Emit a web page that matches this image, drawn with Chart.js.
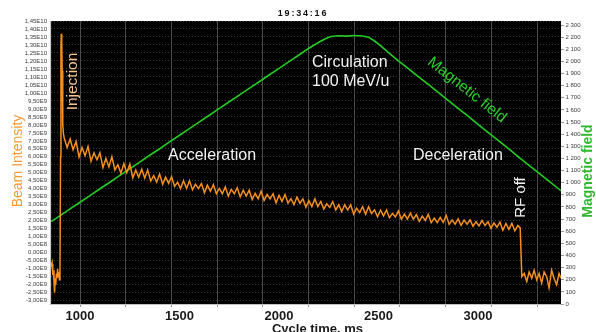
<!DOCTYPE html>
<html>
<head>
<meta charset="utf-8">
<script src="https://cdn.jsdelivr.net/npm/chart.js@4"></script>
<style>
  body { margin: 0; background: #fff; }
  canvas { display: block; }
</style>
</head>
<body>
<canvas id="cycle_chart" width="596" height="332"></canvas>
<script>
// beam intensity in units of 1E9, pairs of [cycle time ms, intensity]
const preInjection = [[854,-0.6],[857,-0.9],[860,-0.7],[863,-1.4],[866,-1.1],[869,-1.8],[872,-2.5],[875,-1.6],[878,-2.0],[881,-1.3],[884,-1.6],[887,-1.0],[890,-1.5],[893,-1.2],[896,-1.7],[899,-1.4]];
const injectionPeak = [[902,6.0],[904,13.0],[906,13.7],[908,13.2],[910,11.4],[912,10.2],[914,8.0],[916,7.5]];
const decayEarly = [[920,7.2],[935,6.58],[950,7.11],[965,6.44],[980,6.96],[995,5.99],[1010,6.58],[1025,6.07],[1040,6.65],[1055,5.72],[1070,6.25],[1085,5.82],[1100,6.25],[1115,5.33],[1130,5.9],[1145,5.37],[1160,6.0],[1175,5.18],[1190,5.5],[1205,4.98],[1220,5.57],[1235,5.01],[1250,5.55],[1265,4.69],[1280,5.18],[1295,4.72],[1310,5.23],[1325,4.68],[1340,5.18],[1355,4.48],[1370,4.82],[1385,4.42],[1400,4.92],[1415,4.28],[1430,4.73],[1445,4.34],[1460,4.75],[1475,4.15],[1490,4.41]];
const decayMid = [[1505,4.01],[1520,4.51],[1535,4.02],[1550,4.51],[1565,3.93],[1580,4.29],[1595,4.01],[1610,4.33],[1625,3.75],[1640,4.23],[1655,3.85],[1670,4.27],[1685,3.7],[1700,4.02],[1715,3.69],[1730,4.12],[1745,3.54],[1760,3.96],[1775,3.69],[1790,4.07],[1805,3.49],[1820,3.91],[1835,3.54],[1850,3.91],[1865,3.33],[1880,3.71],[1895,3.38],[1910,3.85],[1925,3.27],[1940,3.65],[1955,3.37],[1970,3.69],[1985,3.12],[2000,3.59],[2015,3.21],[2030,3.64],[2045,3.11],[2060,3.38],[2075,3.01],[2090,3.48],[2105,3.1],[2120,3.37],[2135,2.85],[2150,3.27],[2165,2.89],[2180,3.37],[2195,2.89],[2210,3.21],[2225,2.74],[2240,3.06],[2255,2.83],[2270,3.2],[2285,2.68],[2300,3.0],[2315,2.57],[2330,3.0],[2345,2.67],[2360,2.99],[2375,2.42],[2390,2.79],[2405,2.51],[2420,2.88],[2435,2.41],[2450,2.88],[2465,2.45],[2480,2.68],[2495,2.25]];
const decayLate = [[2510,2.66],[2525,2.3],[2540,2.67],[2555,2.19],[2570,2.46],[2585,2.24],[2600,2.61],[2615,2.09],[2630,2.42],[2645,2.1],[2660,2.47],[2675,2.1],[2690,2.38],[2705,1.96],[2720,2.29],[2735,2.02],[2750,2.4],[2765,1.88],[2780,2.16],[2795,1.89],[2810,2.21],[2825,1.9],[2840,2.34],[2855,1.77],[2870,2.05],[2885,1.79],[2900,2.12],[2915,1.71],[2930,2.04],[2945,1.78],[2960,2.06],[2975,1.65],[2990,1.94],[3005,1.68],[3020,2.01],[3035,1.7],[3050,1.94],[3065,1.52],[3080,1.86],[3095,1.59],[3110,1.92],[3125,1.4],[3140,1.83],[3155,1.46],[3170,1.84],[3185,1.37],[3200,1.7],[3212,1.55]];
const afterRfOff = [[3220,-1.5],[3232,-1.3],[3245,-1.8],[3257,-1.2],[3270,-1.6],[3282,-1.1],[3295,-1.7],[3307,-1.3],[3320,-1.9],[3332,-1.2],[3345,-1.5],[3357,-2.2],[3370,-1.1],[3382,-1.6],[3395,-2.0],[3407,-1.3],[3417,-1.6]];

// magnetic field, pairs of [cycle time ms, field]
const magneticField = [[855,680],[900,728],[950,784],[1000,839],[1050,894],[1100,950],[1150,1004],[1200,1060],[1250,1115],[1300,1170],[1350,1226],[1400,1280],[1450,1336],[1500,1391],[1550,1446],[1600,1502],[1650,1556],[1700,1612],[1750,1667],[1800,1722],[1850,1777],[1900,1832],[1950,1888],[2000,1943],[2050,1998],[2100,2053],[2150,2108],[2200,2158],[2230,2185],[2260,2205],[2300,2212],[2340,2208],[2380,2214],[2420,2210],[2450,2200],[2480,2168],[2510,2130],[2550,2073],[2600,2005],[2650,1940],[2700,1875],[2750,1810],[2800,1745],[2850,1678],[2900,1612],[2950,1548],[3000,1480],[3050,1415],[3100,1350],[3150,1284],[3200,1218],[3250,1152],[3300,1087],[3350,1022],[3417,934]];

// tick labels
const timeTicks = [1000, 1500, 2000, 2500, 3000];
const gridTimes = [1000, 1250, 1500, 1750, 2000, 2250, 2500, 2750, 3000, 3250, 3500];
const intensityTicks = [-3, -2.5, -2, -1.5, -1, -0.5, 0, 0.5, 1, 1.5, 2, 2.5, 3, 3.5, 4, 4.5, 5, 5.5, 6, 6.5, 7, 7.5, 8, 8.5, 9, 9.5, 10, 10.5, 11, 11.5, 12, 12.5, 13, 13.5, 14, 14.5];
const fieldTicks = [0, 100, 200, 300, 400, 500, 600, 700, 800, 900, 1000, 1100, 1200, 1300, 1400, 1500, 1600, 1700, 1800, 1900, 2000, 2100, 2200, 2300];

const toPoints = arr => arr.map(p => ({x: p[0], y: p[1]}));
const beamIntensity = [].concat(preInjection, injectionPeak, decayEarly, decayMid, decayLate, afterRfOff);

//format 1E9 units as 1,45E10 style
function sciLabel(v) {
    const n = Math.round(v * 100);
    if (n === 0) return '0,00E0';
    const s = String(Math.abs(n));
    const exp = s.length - 1 + 7;
    const mant = (Math.abs(n) / Math.pow(10, s.length - 1)).toFixed(2).replace('.', ',');
    return (n < 0 ? '-' : '') + mant + 'E' + exp;
}

function fieldLabel(v) {
    if (v < 1000) return String(v);
    return Math.floor(v / 1000) + ' ' + String(v % 1000).padStart(3, '0');
}

//draws black plot area, border and the text notes
const decorations = {
    id: 'decorations',
    beforeDraw(chart) {
        const {ctx, chartArea: a} = chart;
        ctx.save();
        ctx.fillStyle = '#000';
        ctx.fillRect(a.left, a.top, a.right - a.left, a.bottom - a.top);
        ctx.restore();
    },
    afterDraw(chart) {
        const {ctx, chartArea: a} = chart;
        ctx.save();
        ctx.strokeStyle = '#c4c4c4';
        ctx.lineWidth = 1.2;
        ctx.beginPath();
        ctx.moveTo(a.left - 0.5, a.top);
        ctx.lineTo(a.left - 0.5, a.bottom + 0.5);
        ctx.lineTo(a.right, a.bottom + 0.5);
        ctx.stroke();

        const text = (str, x, y, font, color, rot, align) => {
            ctx.save();
            ctx.translate(x, y);
            ctx.rotate(rot || 0);
            ctx.font = font;
            ctx.fillStyle = color;
            ctx.textAlign = align || 'center';
            ctx.textBaseline = 'middle';
            ctx.fillText(str, 0, 0);
            ctx.restore();
        };

        // title
        ctx.save();
        ctx.letterSpacing = '1.8px';
        text('19:34:16', 303, 13.5, 'bold 9px "Liberation Sans", Arial', '#111');
        ctx.restore();

        text('Beam Intensity', 18, 161, '14px "Liberation Sans", Arial', '#f39a35', -Math.PI / 2);
        text('Magnetic field', 588.5, 171, 'bold 14px "Liberation Sans", Arial', '#2fb82f', -Math.PI / 2);

        ctx.save();
        ctx.font = 'bold 13px "Liberation Sans", Arial';
        ctx.fillStyle = '#1a1a1a';
        ctx.textAlign = 'center';
        ctx.textBaseline = 'alphabetic';
        ctx.fillText('Cycle time, ms', 317.5, 332.5);
        ctx.restore();

        const f = '15.5px "Liberation Sans", Arial';
        text('Injection', 73, 81.5, f, '#f6c590', -Math.PI / 2);
        text('Acceleration', 168, 156, '16px "Liberation Sans", Arial', '#f2f2f2', 0, 'left');
        text('Circulation', 312, 63, '16px "Liberation Sans", Arial', '#f2f2f2', 0, 'left');
        text('100 MeV/u', 312, 82, '16px "Liberation Sans", Arial', '#f2f2f2', 0, 'left');
        text('Deceleration', 413, 156, '16px "Liberation Sans", Arial', '#f2f2f2', 0, 'left');
        text('Magnetic field', 467, 90, f, '#2bd12b', 0.67);
        text('RF off', 521, 197.5, '15px "Liberation Sans", Arial', '#f2f2f2', -Math.PI / 2);
        ctx.restore();
    }
};

const ctx = document.getElementById('cycle_chart').getContext('2d');
new Chart(ctx, {
    type: 'line',
    data: {
        datasets: [{
            label: 'Beam Intensity',
            data: toPoints(beamIntensity),
            borderColor: '#f5901e',
            borderWidth: 1.5,
            pointRadius: 0,
            xAxisID: 'x',
            yAxisID: 'y'
        }, {
            label: 'Magnetic field',
            data: toPoints(magneticField),
            borderColor: '#22cc22',
            borderWidth: 1.6,
            pointRadius: 0,
            xAxisID: 'x',
            yAxisID: 'y2'
        }]
    },
    options: {
        responsive: false,
        animation: false,
        devicePixelRatio: 1,
        layout: { padding: { top: 21 } },
        plugins: {
            legend: { display: false },
            tooltip: { enabled: false }
        },
        scales: {
            x: {
                type: 'linear',
                position: 'bottom',
                weight: 1,
                min: 854,
                max: 3417,
                bounds: 'data',
                afterBuildTicks: s => { s.ticks = timeTicks.map(v => ({value: v})); },
                afterFit: s => { s.height = 28; },
                grid: { display: false, drawTicks: false },
                border: { display: false },
                ticks: {
                    autoSkip: false,
                    maxRotation: 0,
                    padding: 5,
                    color: '#1a1a1a',
                    font: { family: '"Liberation Sans", Arial', size: 13, weight: 'bold' },
                    callback: v => String(v)
                }
            },
            xg: {
                type: 'linear',
                position: 'bottom',
                weight: 0,
                min: 841,
                max: 3631,
                bounds: 'data',
                afterBuildTicks: s => { s.ticks = gridTimes.map(v => ({value: v})); },
                afterFit: s => { s.height = 0; },
                grid: { color: '#4a4a4a', lineWidth: 1, tickLength: 3, tickColor: '#9a9a9a' },
                border: { display: false },
                ticks: { display: false }
            },
            y: {
                type: 'linear',
                position: 'left',
                min: -3.21,
                max: 14.5,
                bounds: 'data',
                afterBuildTicks: s => { s.ticks = intensityTicks.map(v => ({value: v})); },
                afterFit: s => { s.width = 51; },
                grid: { color: '#3c3c3c', borderDash: [1, 2], drawTicks: false },
                border: { display: false, dash: [1, 2] },
                ticks: {
                    autoSkip: false,
                    padding: 4,
                    color: '#3c3c3c',
                    font: { family: '"Liberation Sans", Arial', size: 6 },
                    callback: v => sciLabel(v)
                }
            },
            y2: {
                type: 'linear',
                position: 'right',
                min: 0,
                max: 2333,
                bounds: 'data',
                afterBuildTicks: s => { s.ticks = fieldTicks.map(v => ({value: v})); },
                afterFit: s => { s.width = 35; },
                grid: { drawOnChartArea: false, tickLength: 3, tickColor: '#999' },
                border: { display: false },
                ticks: {
                    autoSkip: false,
                    padding: 1.5,
                    color: '#3c3c3c',
                    font: { family: '"Liberation Sans", Arial', size: 6 },
                    callback: v => fieldLabel(v)
                }
            }
        }
    },
    plugins: [decorations]
});
</script>
</body>
</html>
